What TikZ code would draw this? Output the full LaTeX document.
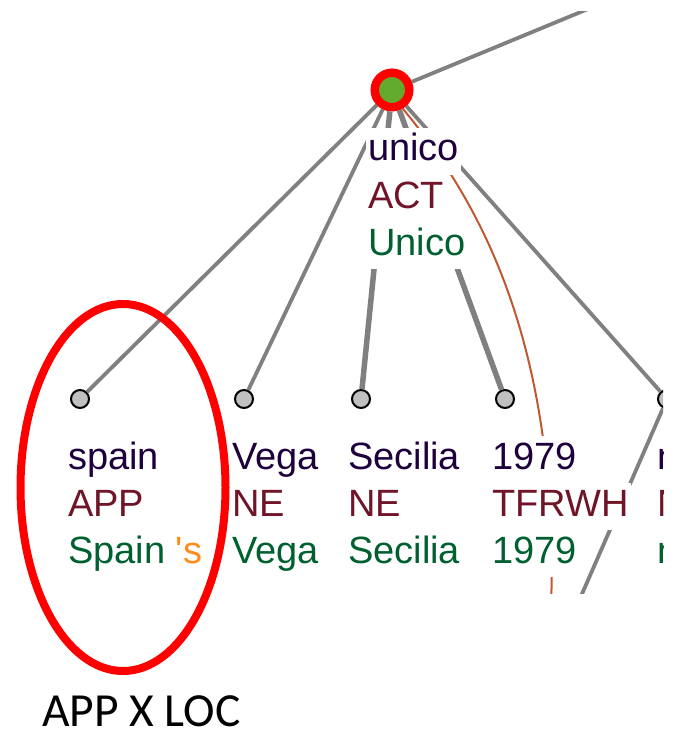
\documentclass[tikz,border=0pt]{standalone}
\usepackage{fontspec}
\setmainfont{Liberation Sans}
\newfontfamily\treefont{Liberation Sans}
\newfontfamily\capfont{Carlito}

\definecolor{edgegray}{RGB}{128,128,128}
\definecolor{linkbrown}{RGB}{192,88,47}
\definecolor{leafgray}{RGB}{192,192,192}
\definecolor{rootgreen}{RGB}{98,171,47}
\definecolor{wordcol}{RGB}{30,0,60}
\definecolor{tagcol}{RGB}{112,20,40}
\definecolor{lemmacol}{RGB}{0,96,48}
\definecolor{suffixcol}{RGB}{255,140,26}

\begin{document}
\begin{tikzpicture}[x=1pt,y=-1pt,
  edge/.style={draw=edgegray, line width=3.8pt},
  heavyedge/.style={draw=edgegray, line width=5.5pt},
  link/.style={draw=linkbrown, line width=2pt},
  leaf/.style={circle, draw=black, fill=leafgray, line width=2pt,
               minimum size=18pt, inner sep=0pt},
  rootnode/.style={circle, draw=red, fill=rootgreen, line width=8.5pt,
                   minimum size=34.5pt, inner sep=0pt},
  row/.style={anchor=base west, fill=white, inner xsep=2pt, inner ysep=0pt,
              font=\treefont\fontsize{38}{47}\selectfont,
              execute at begin node=\strut},
  word/.style={row, text=wordcol},
  tag/.style={row, text=tagcol},
  lemma/.style={row, text=lemmacol},
]
\useasboundingbox (0,0) rectangle (674,735);

% dependency tree (screen capture area)
\begin{scope}
  \clip (0,12) rectangle (663,593);

  \node[rootnode] (root) at (392,90) {};
  \node[leaf] (l1) at (80,399) {};
  \node[leaf] (l2) at (244,399) {};
  \node[leaf] (l3) at (361,399) {};
  \node[leaf] (l4) at (505,399) {};
  \node[leaf] (l5) at (667,399) {};
  \coordinate (up) at (600,4);
  \coordinate (down) at (575,610);
  \coordinate (linkend) at (551,610);

  % tree edges
  \draw[edge] (root) -- (up);
  \draw[edge] (root) -- (l1);
  \draw[edge] (root) -- (l2);
  \draw[heavyedge] (root) -- (l3);
  \draw[heavyedge] (root) -- (l4);
  \draw[edge] (root) -- (l5);
  \draw[edge] (l5) -- (down);
  \draw[link] (root.-60) .. controls (470,190) and (560,330) .. (linkend);

  % root label
  \node[word]  (rw) at (366,161) {unico};
  \node[tag]   (rt) at (366,208) {ACT};
  \node[lemma] (rl) at (366,255) {Unico};

  % leaf labels
  \node[word]  (w1) at (66,469) {spain};
  \node[tag]   (t1) at (66,516) {APP};
  \node[lemma] (m1) at (66,563) {Spain \textcolor{suffixcol}{'s}};

  \node[word]  (w2) at (230,469) {Vega};
  \node[tag]   (t2) at (230,516) {NE};
  \node[lemma] (m2) at (230,563) {Vega};

  \node[word]  (w3) at (346,469) {Secilia};
  \node[tag]   (t3) at (346,516) {NE};
  \node[lemma] (m3) at (346,563) {Secilia};

  \node[word]  (w4) at (490,469) {1979};
  \node[tag]   (t4) at (490,516) {TFRWH};
  \node[lemma] (m4) at (490,563) {1979};

  % next column, cut off by the capture edge
  \node[word]  (w5) at (655,469) {n};
  \node[tag]   (t5) at (655,516) {N};
  \node[lemma] (m5) at (655,563) {n};
\end{scope}

% highlight and caption
\draw[red, line width=8pt] (123,487.5) ellipse [x radius=102.5pt, y radius=183.5pt];
\node[anchor=base west, inner sep=0pt, font=\capfont\fontsize{47.5}{57}\selectfont]
  (caption) at (42,726) {APP X LOC};
\end{tikzpicture}
\end{document}
